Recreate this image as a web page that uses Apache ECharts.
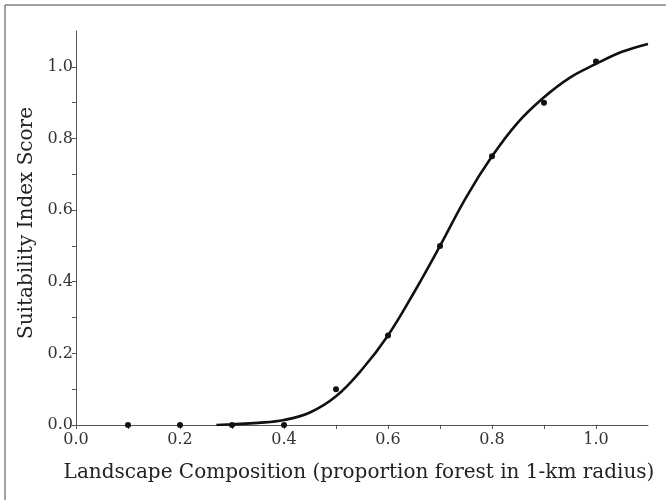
<!DOCTYPE html>
<html>
<head>
<meta charset="utf-8">
<script src="https://cdn.jsdelivr.net/npm/echarts@6/dist/echarts.min.js"></script>
<style>
html,body{margin:0;padding:0;background:#fff;}
#chart{width:666px;height:500px;}
</style>
</head>
<body>
<div id="chart"></div>
<script>
// Observed data points (landscape composition vs suitability index score)
var pointX = [0.1, 0.2, 0.3, 0.4, 0.5, 0.6, 0.7, 0.8, 0.9, 1.0];
var pointY = [0.0, 0.0, 0.0, 0.0, 0.10, 0.25, 0.50, 0.75, 0.90, 1.015];

// Fitted curve, values
var curveX = [0.27, 0.30, 0.35, 0.40, 0.45, 0.50, 0.55, 0.60, 0.65, 0.70, 0.75, 0.80, 0.85, 0.90, 0.95, 1.00, 1.05, 1.10];
var curveY = [0.0, 0.002, 0.006, 0.014, 0.035, 0.08, 0.155, 0.25, 0.37, 0.50, 0.635, 0.75, 0.845, 0.915, 0.97, 1.008, 1.042, 1.064];

var xTitle = 'Landscape Composition (proportion forest in 1-km radius)';
var yTitle = 'Suitability Index Score';

function pairs(xs, ys) {
  var out = [];
  for (var i = 0; i < xs.length; i++) out.push([xs[i], ys[i]]);
  return out;
}

var font = 'DejaVu Serif';
var chart = echarts.init(document.getElementById('chart'), null, {renderer: 'canvas'});
chart.setOption({
  animation: false,
  backgroundColor: '#fff',
  grid: {left: 76, right: 18, top: 31, bottom: 75, containLabel: false},
  graphic: [{
    type: 'rect',
    shape: {x: 5, y: 5, width: 800, height: 700},
    style: {fill: 'none', stroke: '#444', lineWidth: 1},
    z: 100,
    silent: true
  }],
  xAxis: {
    type: 'value',
    min: 0, max: 1.1, interval: 0.1,
    name: xTitle,
    nameLocation: 'middle',
    nameGap: 38,
    nameTextStyle: {fontFamily: font, fontSize: 20, color: '#222', padding: [0, 6, 0, 0]},
    axisLine: {show: true, onZero: false, lineStyle: {color: '#555', width: 1}},
    axisTick: {show: true, length: 4, inside: false, lineStyle: {color: '#555'}},
    splitLine: {show: false},
    axisLabel: {
      fontFamily: font, fontSize: 16, color: '#333', margin: 7,
      showMaxLabel: false,
      formatter: function (v) {
        var r = Math.round(v * 10);
        return (r % 2 === 0) ? (r / 10).toFixed(1) : '';
      }
    }
  },
  yAxis: {
    type: 'value',
    min: 0, max: 1.1, interval: 0.1,
    name: yTitle,
    nameLocation: 'middle',
    nameGap: 34,
    nameTextStyle: {fontFamily: font, fontSize: 20, color: '#222', padding: [0, 0, 0, 10]},
    axisLine: {show: true, onZero: false, lineStyle: {color: '#555', width: 1}},
    axisTick: {show: true, length: 4, inside: false, lineStyle: {color: '#555'}},
    splitLine: {show: false},
    axisLabel: {
      fontFamily: font, fontSize: 16, color: '#333', margin: 3,
      showMaxLabel: false,
      verticalAlign: 'middle',
      padding: [0, 0, 12, 0],
      formatter: function (v) {
        var r = Math.round(v * 10);
        return (r % 2 === 0) ? (r / 10).toFixed(1) : '';
      }
    }
  },
  series: [{
    type: 'line',
    data: pairs(curveX, curveY),
    smooth: 0.4,
    showSymbol: false,
    lineStyle: {color: '#111', width: 2.6},
    z: 3
  }, {
    type: 'scatter',
    data: pairs(pointX, pointY),
    symbol: 'circle',
    symbolSize: 6,
    itemStyle: {color: '#111', opacity: 1},
    z: 4
  }]
});
</script>
</body>
</html>
